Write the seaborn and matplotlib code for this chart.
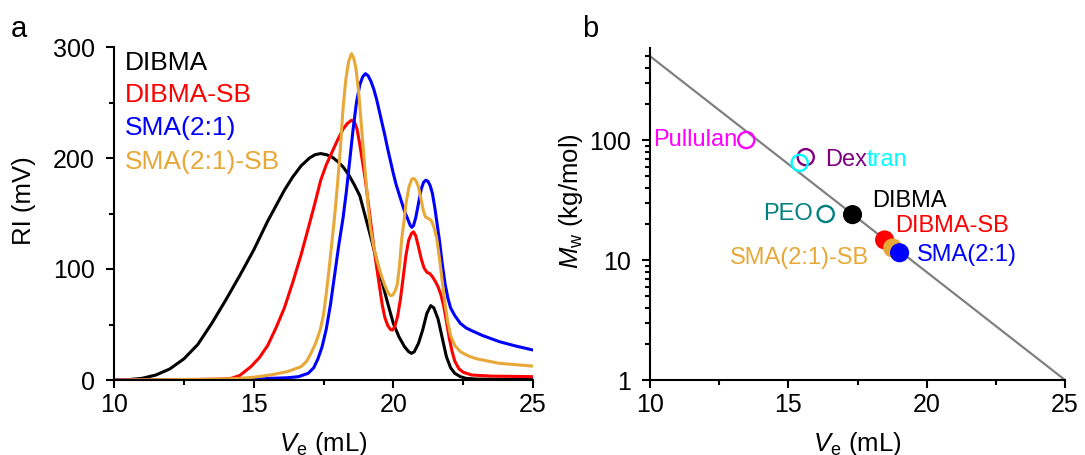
import numpy as np
import pandas as pd
import matplotlib
matplotlib.use("Agg")
import matplotlib.pyplot as plt
import seaborn as sns
from matplotlib.ticker import FixedLocator, LogLocator, NullFormatter, FuncFormatter

# ---------------- SEC traces (panel a) ----------------
ve_dibma = [10.0, 10.5, 11.0, 11.5, 12.0, 12.5, 13.0, 13.5, 14.0, 14.5, 15.0, 15.5,
            15.8, 16.1, 16.4, 16.7, 17.0, 17.2, 17.4, 17.6, 17.8, 18.0, 18.2, 18.4,
            18.6, 18.8, 19.0, 19.2, 19.4, 19.6, 19.8, 20.0, 20.2, 20.4, 20.55, 20.65,
            20.75, 20.9, 21.05, 21.2, 21.34, 21.45, 21.6, 21.75, 21.9, 22.05, 22.2,
            22.4, 22.6, 23.0, 24.0, 25.0]
ri_dibma = [0, 0.3, 1.5, 4.5, 10, 19, 32, 51, 72, 94, 117, 143,
            157, 171, 183, 193, 200, 203, 204, 203, 201, 197, 192, 185,
            176, 166, 147, 128, 108, 88, 69, 51, 39, 30, 25.5, 24,
            25.5, 33, 45, 60, 67, 65, 55, 38, 21, 11, 6,
            3, 1.5, 0.8, 0.5, 0.5]

ve_dibma_sb = [10.0, 13.0, 13.8, 14.2, 14.5, 14.9, 15.2, 15.5, 15.8, 16.1, 16.4, 16.7,
               17.0, 17.2, 17.4, 17.6, 17.8, 18.0, 18.2, 18.35, 18.5, 18.6, 18.7, 18.8,
               18.9, 19.0, 19.1, 19.2, 19.3, 19.4, 19.5, 19.6, 19.7, 19.8, 19.9, 19.97,
               20.05, 20.15, 20.25, 20.35, 20.45, 20.55, 20.65, 20.72, 20.8, 20.9, 21.0,
               21.1, 21.2, 21.3, 21.4, 21.5, 21.6, 21.7, 21.8, 21.9, 22.0, 22.1, 22.2,
               22.35, 22.5, 22.8, 23.5, 25.0]
ri_dibma_sb = [0.3, 0.5, 0.8, 1.5, 4, 12, 20, 31, 47, 65, 88, 113,
               141, 160, 180, 194, 205, 216, 226, 231, 234, 233, 226, 212,
               196, 180, 160, 140, 120, 102, 85, 68, 56, 49, 45.5, 45,
               48, 57, 72, 92, 112, 126, 132, 133.5, 130, 120, 109,
               101, 97, 96, 93, 89, 84, 77, 67, 53, 38, 26, 17,
               10, 7, 4.5, 3.5, 3]

ve_sma = [10.0, 15.0, 15.6, 16.2, 16.6, 16.95, 17.15, 17.3, 17.45, 17.6, 17.75, 17.9,
          18.05, 18.2, 18.32, 18.44, 18.56, 18.68, 18.8, 18.9, 19.0, 19.1, 19.2, 19.3,
          19.4, 19.5, 19.6, 19.7, 19.8, 19.9, 20.0, 20.1, 20.2, 20.3, 20.4, 20.5,
          20.6, 20.66, 20.72, 20.8, 20.9, 21.0, 21.08, 21.16, 21.24, 21.32, 21.4,
          21.48, 21.56, 21.65, 21.75, 21.85, 21.95, 22.05, 22.2, 22.4, 22.6, 22.8,
          23.2, 23.8, 24.4, 25.0]
ri_sma = [0, 0.5, 1.5, 2, 3, 6, 11, 19, 30, 46, 68, 95,
          122, 146, 170, 198, 226, 250, 266, 273, 276, 274, 269, 262,
          253, 242, 231, 220, 208, 197, 186, 176, 168, 160, 152, 146,
          139.5, 137.5, 139, 146, 159, 172, 178, 180, 179, 175, 168,
          156, 142, 126, 105, 87, 74, 65, 58, 51, 47, 44.5,
          40, 34.5, 30.5, 27]

ve_sma_sb = [10.0, 13.0, 14.0, 14.5, 15.0, 15.6, 16.2, 16.7, 16.9, 17.05, 17.2, 17.3,
             17.4, 17.5, 17.6, 17.7, 17.8, 17.9, 18.0, 18.1, 18.2, 18.3, 18.4, 18.5,
             18.58, 18.66, 18.76, 18.86, 18.95, 19.02, 19.1, 19.18, 19.28, 19.4, 19.5,
             19.6, 19.7, 19.8, 19.9, 19.98, 20.06, 20.14, 20.22, 20.3, 20.38, 20.46,
             20.56, 20.66, 20.74, 20.82, 20.9, 21.0, 21.08, 21.15, 21.25, 21.35, 21.45,
             21.55, 21.65, 21.75, 21.85, 21.95, 22.05, 22.2, 22.4, 22.7, 23.0, 23.8, 25.0]
ri_sma_sb = [0, 0.5, 1, 1.5, 2.5, 4.5, 7.5, 12, 17, 24, 32, 39,
             47, 59, 78, 100, 124, 148, 176, 207, 245, 271, 287, 294,
             290, 281, 259, 228, 200, 180, 156, 137, 122, 109, 100,
             92, 85, 79, 76, 76.5, 80, 86, 103, 127, 143, 160,
             174, 181, 181.5, 179, 174, 162, 152, 147, 145.5, 144, 138,
             128, 110, 89, 69, 52, 40, 31, 25.5, 21.5, 19, 15, 12.5]

polymers = ["DIBMA", "DIBMA-SB", "SMA(2:1)", "SMA(2:1)-SB"]
polymer_colors = ["#000000", "#FF0000", "#0000FF", "#E8A838"]

# ---------------- calibration (panel b) ----------------
std_names = ["Pullulan", "Dextran (a)", "Dextran (b)", "PEO"]
std_ve = [13.48, 15.63, 15.41, 16.35]
std_mw = [100, 72, 64.5, 24.2]
std_colors = ["#FF00FF", "#800080", "#00FFFF", "#008080"]

# same order as `polymers`
poly_ve = [17.32, 18.48, 19.02, 18.77]
poly_mw = [23.9, 14.7, 11.5, 12.6]
poly_plot_order = ["DIBMA", "DIBMA-SB", "SMA(2:1)-SB", "SMA(2:1)"]

fit_ve = [10, 25]
fit_mw = [500, 1]

# ---------------- style ----------------
sns.set_style("ticks")
plt.rcParams.update({
    "font.family": ["Liberation Sans", "DejaVu Sans"],
    "mathtext.fontset": "custom",
    "mathtext.rm": "Liberation Sans",
    "mathtext.it": "Liberation Sans:italic",
    "axes.linewidth": 1.5,
    "xtick.major.width": 1.5, "ytick.major.width": 1.5,
    "xtick.minor.width": 1.5, "ytick.minor.width": 1.5,
    "xtick.major.size": 6, "ytick.major.size": 6,
    "xtick.minor.size": 3.5, "ytick.minor.size": 3.5,
    "xtick.direction": "out", "ytick.direction": "out",
    "xtick.labelsize": 18, "ytick.labelsize": 18,
    "xtick.major.pad": 3.5, "ytick.major.pad": 8,
    "axes.labelsize": 18.5,
    "text.color": "black", "axes.labelcolor": "black",
    "xtick.color": "black", "ytick.color": "black", "axes.edgecolor": "black",
})

W, H = 1085, 455
fig = plt.figure(figsize=(W / 100, H / 100), dpi=100)
ax_a = fig.add_axes([114 / W, 75 / H, 419 / W, 333 / H])
ax_b = fig.add_axes([650 / W, 75 / H, 415 / W, 332 / H])

# ---------------- panel a ----------------
traces = pd.concat([
    pd.DataFrame({"ve": ve_dibma, "ri": ri_dibma, "polymer": "DIBMA"}),
    pd.DataFrame({"ve": ve_dibma_sb, "ri": ri_dibma_sb, "polymer": "DIBMA-SB"}),
    pd.DataFrame({"ve": ve_sma, "ri": ri_sma, "polymer": "SMA(2:1)"}),
    pd.DataFrame({"ve": ve_sma_sb, "ri": ri_sma_sb, "polymer": "SMA(2:1)-SB"}),
], ignore_index=True)
palette = dict(zip(polymers, polymer_colors))

sns.lineplot(data=traces, x="ve", y="ri", hue="polymer", hue_order=polymers,
             palette=palette, estimator=None, sort=False, linewidth=2.2,
             legend=False, ax=ax_a)
for ln in ax_a.lines:
    ln.set_solid_joinstyle("round")

ax_a.set_xlim(10, 25)
ax_a.set_ylim(0, 300)
ax_a.xaxis.set_major_locator(FixedLocator([10, 15, 20, 25]))
ax_a.xaxis.set_minor_locator(FixedLocator([12.5, 17.5, 22.5]))
ax_a.yaxis.set_major_locator(FixedLocator([0, 100, 200, 300]))
ax_a.yaxis.set_minor_locator(FixedLocator([50, 150, 250]))
ax_a.set_xlabel(r"$V_\mathrm{e}$ (mL)")
ax_a.set_ylabel("RI (mV)")
ax_a.xaxis.set_label_coords(0.5, -0.15)
ax_a.yaxis.set_label_coords(-0.186, 0.54)
sns.despine(ax=ax_a)

legend_y = [0.952, 0.856, 0.757, 0.655]
for name, col, yy in zip(polymers, polymer_colors, legend_y):
    ax_a.text(0.025, yy, name, color=col, fontsize=19, transform=ax_a.transAxes,
              ha="left", va="center")

# ---------------- panel b ----------------
fit_df = pd.DataFrame({"ve": fit_ve, "mw": fit_mw})
sns.lineplot(data=fit_df, x="ve", y="mw", color="#808080", linewidth=1.6,
             estimator=None, ax=ax_b, zorder=1)

for i in range(len(std_names)):
    ax_b.scatter(std_ve[i], std_mw[i], s=135, facecolors="none",
                 edgecolors=std_colors[i], linewidths=1.7, zorder=3)

poly_df = pd.DataFrame({"ve": poly_ve, "mw": poly_mw, "polymer": polymers})
poly_df["polymer"] = pd.Categorical(poly_df["polymer"], categories=poly_plot_order, ordered=True)
poly_df = poly_df.sort_values("polymer")
sns.scatterplot(data=poly_df, x="ve", y="mw", hue="polymer", hue_order=poly_plot_order,
                palette=palette, s=190, linewidth=0, legend=False, ax=ax_b, zorder=4)

ax_b.set_yscale("log")
ax_b.set_xlim(10, 25)
ax_b.set_ylim(1, 585)
ax_b.xaxis.set_major_locator(FixedLocator([10, 15, 20, 25]))
ax_b.xaxis.set_minor_locator(FixedLocator([12.5, 17.5, 22.5]))
ax_b.yaxis.set_major_locator(FixedLocator([1, 10, 100]))
ax_b.yaxis.set_major_formatter(FuncFormatter(lambda v, p: f"{v:g}"))
ax_b.yaxis.set_minor_locator(LogLocator(base=10, subs=np.arange(2, 10), numticks=20))
ax_b.yaxis.set_minor_formatter(NullFormatter())
ax_b.set_xlabel(r"$V_\mathrm{e}$ (mL)")
ax_b.set_ylabel(r"$M_\mathrm{w}$ (kg/mol)")
ax_b.xaxis.set_label_coords(0.5, -0.15)
ax_b.yaxis.set_label_coords(-0.157, 0.54)
sns.despine(ax=ax_b)

lab_fs = 17
def tag(text, xy, off, color, ha):
    return ax_b.annotate(text, xy=xy, xytext=off, textcoords="offset pixels",
                         color=color, fontsize=lab_fs, ha=ha, va="center")

tag("Pullulan", (std_ve[0], std_mw[0]), (-9, 0), std_colors[0], "right")
dex = tag("Dex", (std_ve[1], std_mw[1]), (19, -3), std_colors[1], "left")
ax_b.annotate("tran", xy=(1, 0), xycoords=dex, color=std_colors[2],
              fontsize=lab_fs, ha="left", va="bottom")
tag("PEO", (std_ve[3], std_mw[3]), (-13, 0), std_colors[3], "right")
tag("DIBMA", (poly_ve[0], poly_mw[0]), (20, 14), polymer_colors[0], "left")
tag("DIBMA-SB", (poly_ve[1], poly_mw[1]), (11, 14), polymer_colors[1], "left")
tag("SMA(2:1)", (poly_ve[2], poly_mw[2]), (17, -2), polymer_colors[2], "left")
tag("SMA(2:1)-SB", (poly_ve[3], poly_mw[3]), (-24, -10), polymer_colors[3], "right")

# panel letters
fig.text(11 / W, 1 - 37 / H, "a", fontsize=21, ha="left", va="baseline")
fig.text(582 / W, 1 - 37 / H, "b", fontsize=21, ha="left", va="baseline")

fig.savefig("out.png", dpi=100)
